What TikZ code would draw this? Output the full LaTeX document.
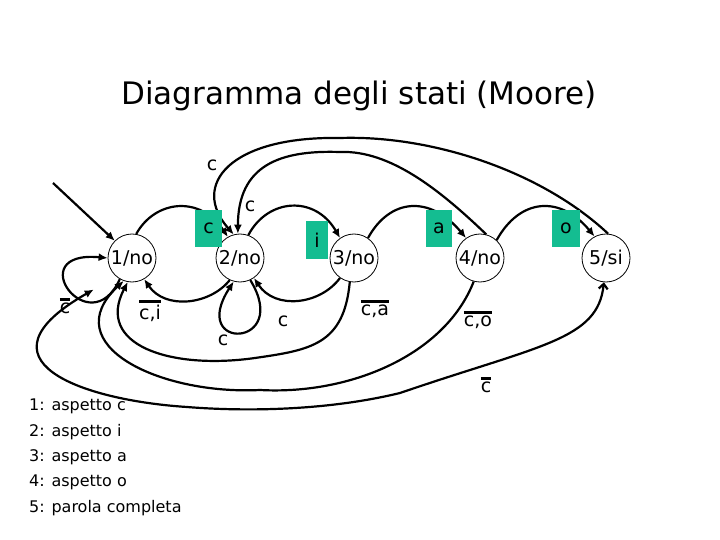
\documentclass[tikz,border=0pt]{standalone}
\usepackage{fontspec}
\setmainfont{DejaVu Sans}
\usepackage{tikz}
\usetikzlibrary{arrows.meta,positioning,calc}
\definecolor{verdeacqua}{RGB}{20,189,145}
\newcommand{\negato}[1]{\vbox{\hrule height 2.6pt\kern 2.5pt\hbox{#1}}}

\begin{document}
\begin{tikzpicture}[
  x=1pt, y=-1pt,
  font=\fontsize{19}{22}\selectfont,
  stato/.style={draw, circle, line width=0.8pt, minimum size=48pt, inner sep=0pt},
  etverde/.style={fill=verdeacqua, minimum height=37pt, inner sep=0pt},
  etichetta/.style={inner sep=1pt},
  freccia/.style={-{Latex[length=9pt,width=8pt]}, line width=2.2pt},
  titolo/.style={font=\fontsize{31}{36}\selectfont},
  legenda/.style={font=\fontsize{16}{19}\selectfont, anchor=west, inner sep=0pt}
]
\useasboundingbox (0,0) rectangle (720,540);
\node[titolo] (titolo) at (359,96) {Diagramma degli stati (Moore)};
\node[stato] (s1) at (132,258) {1/no};
\node[stato] (s2) at (240,258) {2/no};
\node[stato] (s3) at (354,258) {3/no};
\node[stato] (s4) at (480,258) {4/no};
\node[stato] (s5) at (606,258) {5/si};
\coordinate (inizio) at (53,183);
\draw[freccia] (inizio) -- (s1.135);
\draw[freccia] (s1.80) .. controls (155,200) and (200,195) .. (s2.120);
\draw[freccia] (s2.70) .. controls (268,198) and (315,195) .. (s3.125);
\draw[freccia] (s3.55) .. controls (390,198) and (430,195) .. (s4.125);
\draw[freccia] (s4.47) .. controls (520,198) and (560,195) .. (s5.118);
\draw[freccia] (s5.85) .. controls (540,170) and (430,135) .. (340,138) .. controls (230,136) and (190,185) .. (s2.105);
\draw[freccia] (s4.75) .. controls (440,190) and (390,150) .. (340,152) .. controls (280,150) and (238,165) .. (s2.95);
\draw[freccia] (s1.-120) .. controls (90,345) and (20,250) .. (s1.180);
\draw[freccia] (s2.-115) .. controls (210,305) and (165,310) .. (s1.-60);
\draw[freccia] (s2.-65) .. controls (292,348) and (188,352) .. (s2.-105);
\draw[freccia] (s3.-125) .. controls (320,305) and (275,310) .. (s2.-55);
\draw[freccia] (s3.-100) .. controls (344,345) and (310,350) .. (255,358) .. controls (170,370) and (95,345) .. (s1.-100);
\draw[freccia] (s4.-105) .. controls (445,355) and (350,395) .. (260,390) .. controls (160,395) and (55,345) .. (s1.-110);
\draw[freccia, {Straight Barb[length=5pt,width=9pt]}-{Latex[length=9pt,width=8pt]}, shorten >=26pt] (s5.-95) .. controls (598,340) and (540,345) .. (400,393) .. controls (330,410) and (250,412) .. (187,407) .. controls (80,400) and (-30,360) .. (s1.-130);
\node[etverde, minimum width=27pt] (lc12) at (208.5,228.5) {c};
\node[etverde, minimum width=22pt] (li23) at (317,240) {i};
\node[etverde, minimum width=26pt] (la34) at (439,228.5) {a};
\node[etverde, minimum width=28pt] (lo45) at (566,228.5) {o};
\node[etichetta] (lc52) at (212,165) {c};
\node[etichetta] (lc42) at (250,206) {c};
\node[etichetta] (ln11) at (65,306) {\negato{c}};
\node[etichetta] (ln21) at (150,311) {\negato{c,i}};
\node[etichetta] (lc22) at (223,340) {c};
\node[etichetta] (lc32) at (283,321) {c};
\node[etichetta] (ln31) at (375,309) {\negato{c,a}};
\node[etichetta] (ln41) at (478,320) {\negato{c,o}};
\node[etichetta] (ln51) at (486,385) {\negato{c}};
\foreach \n/\t in {1/aspetto c,2/aspetto i,3/aspetto a,4/aspetto o,5/parola completa}
  \node[legenda] (leg\n) at (29,381.5+25.3*\n) {\n: \t};
\end{tikzpicture}
\end{document}
